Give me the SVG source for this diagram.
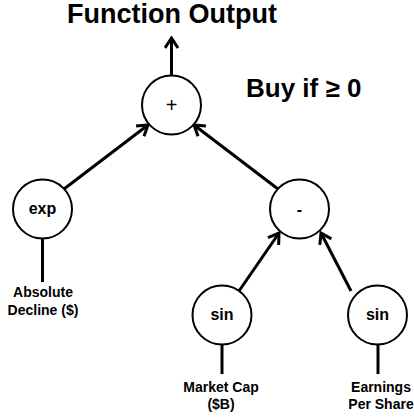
<svg xmlns="http://www.w3.org/2000/svg" width="414" height="419" viewBox="0 0 414 419">
  <style>
    .node circle { fill: #ffffff; stroke: #000000; stroke-width: 2; }
    .op { font-family: "Liberation Sans", Arial, sans-serif; font-weight: bold; font-size: 16px; text-anchor: middle; fill: #000000; }
    .sym { font-family: "Liberation Sans", Arial, sans-serif; font-size: 20px; text-anchor: middle; fill: #000000; }
    .lbl { font-family: "Liberation Sans", Arial, sans-serif; font-weight: bold; font-size: 14px; text-anchor: middle; fill: #000000; }
    .title { font-family: "Liberation Sans", Arial, sans-serif; font-weight: bold; font-size: 26px; fill: #000000; }
    .edge { stroke: #000000; stroke-width: 3; fill: none; }
    .arrow { marker-end: url(#chev); }
  </style>
  <defs>
    <marker id="chev" markerUnits="userSpaceOnUse" viewBox="0 0 14 16" markerWidth="14" markerHeight="16" refX="12" refY="8" orient="auto">
      <path d="M2,1.5 L12,8 L2,14.5" fill="none" stroke="#000000" stroke-width="3" stroke-linejoin="miter"/>
    </marker>
  </defs>

  <!-- headings -->
  <text class="title" x="172" y="23" text-anchor="middle" style="font-size:27px">Function Output</text>
  <text class="title" x="246" y="97">Buy if ≥ 0</text>

  <!-- connectors -->
  <g id="edges">
    <line class="edge arrow" x1="171.5" y1="76" x2="171.5" y2="38"/>
    <line class="edge arrow" x1="64" y1="189" x2="148" y2="125"/>
    <line class="edge arrow" x1="278" y1="189" x2="194" y2="125"/>
    <line class="edge arrow" x1="239" y1="291" x2="279" y2="233"/>
    <line class="edge arrow" x1="351" y1="291" x2="321" y2="233"/>
    <line class="edge" x1="42.5" y1="238" x2="42.5" y2="282"/>
    <line class="edge" x1="222" y1="344" x2="222" y2="374"/>
    <line class="edge" x1="378" y1="344" x2="378" y2="374"/>
  </g>

  <!-- operator nodes -->
  <g id="node-plus" class="node">
    <circle cx="171.5" cy="105" r="29.5"/>
    <text class="sym" x="171.5" y="112">+</text>
  </g>
  <g id="node-exp" class="node">
    <circle cx="42.5" cy="209" r="29.5"/>
    <text class="op" x="42.5" y="214">exp</text>
  </g>
  <g id="node-minus" class="node">
    <circle cx="299.5" cy="209" r="29.5"/>
    <text class="op" x="299.5" y="215" fill="#333333">-</text>
  </g>
  <g id="node-sin-left" class="node">
    <circle cx="222" cy="315" r="29.5"/>
    <text class="op" x="222" y="320">sin</text>
  </g>
  <g id="node-sin-right" class="node">
    <circle cx="377.5" cy="315" r="29.5"/>
    <text class="op" x="377.5" y="320">sin</text>
  </g>

  <!-- input labels -->
  <g id="input-decline">
    <text class="lbl" x="43" y="297">Absolute</text>
    <text class="lbl" x="43" y="315">Decline ($)</text>
  </g>
  <g id="input-marketcap">
    <text class="lbl" x="221" y="392">Market Cap</text>
    <text class="lbl" x="221" y="409">($B)</text>
  </g>
  <g id="input-eps">
    <text class="lbl" x="381" y="392">Earnings</text>
    <text class="lbl" x="381" y="409">Per Share</text>
  </g>
</svg>
